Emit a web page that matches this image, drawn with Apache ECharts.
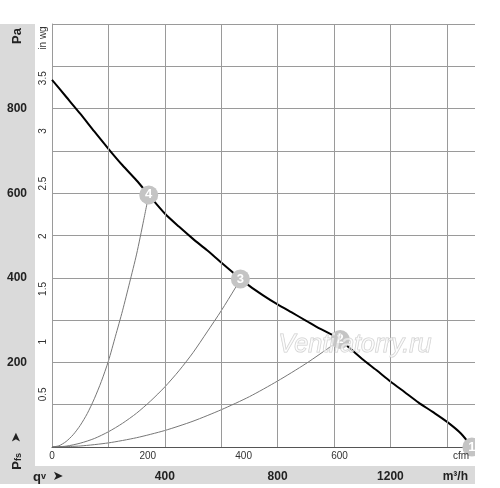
<!DOCTYPE html>
<html>
<head>
<meta charset="utf-8">
<script src="https://cdn.jsdelivr.net/npm/echarts@6/dist/echarts.min.js"></script>
<style>
html,body{margin:0;padding:0;background:#fff;}
#c{width:500px;height:488px;}
</style>
</head>
<body>
<div id="c"></div>
<script>
// Fan curve (airflow m³/h, static pressure Pa)
const mainCurve = [[0,868],[50,828],[100,788],[150,746],[200,705],[250,666],[300,630],[343,596],[400,552],[450,521],[500,492],[550,465],[600,436],[650,408],[700,381],[750,358],[800,337],[850,318],[900,299],[950,280],[1000,263],[1022,254],[1050,237],[1100,208],[1150,182],[1200,155],[1250,130],[1300,105],[1350,83],[1400,60],[1450,32],[1489,0]];
// System curves through operating points
const sys4 = [[0,0],[25,3],[50,13],[75,29],[100,51],[125,79],[150,114],[175,155],[200,203],[225,262],[250,322],[275,388],[300,456],[325,536],[343,596]];
const sys3 = [[0,0],[50,2],[100,9],[150,20],[200,36],[250,56],[300,80],[350,109],[400,142],[450,180],[500,223],[550,272],[600,322],[650,376],[668,397]];
const sys2 = [[0,0],[100,2.4],[200,9.7],[300,22],[400,39],[500,61],[600,88],[700,119],[800,156],[900,197],[1000,243],[1022,254]];
// Operating points
const opPoints = [[1489,0,'1'],[1022,254,'2'],[668,397,'3'],[343,596,'4']];
// Axis ticks
const flowGridTicks = [200,400,600,800,1000,1200,1400];
const flowLabels = [400,800,1200];
const paLabels = [200,400,600,800];
const cfmLabels = [0,200,400,600];
const inwgLabels = [0.5,1,1.5,2,2.5,3,3.5];

const FONT = 'Liberation Sans, Arial, sans-serif';
const chart = echarts.init(document.getElementById('c'));
const gridRect = {left:52, right:25, top:24, bottom:41};
const grey = '#9a9a9a';
const curveBase = {type:'line', smooth:0.25, showSymbol:false, silent:true};

chart.setOption({
  animation:false,
  backgroundColor:'#fff',
  grid:[Object.assign({}, gridRect), Object.assign({}, gridRect)],
  xAxis:[
    {type:'value', gridIndex:0, min:0, max:1500, interval:200, position:'bottom',
     axisLine:{show:true, lineStyle:{color:'#555', width:1}},
     axisTick:{show:false}, splitLine:{show:false},
     axisLabel:{margin:24, fontFamily:FONT, fontSize:12, fontWeight:'bold', color:'#222',
       formatter:v=>flowLabels.indexOf(v)>=0?String(v):''}},
    {type:'value', gridIndex:1, min:0, max:1500/1.699, interval:200, position:'bottom',
     axisLine:{show:false}, axisTick:{show:false}, splitLine:{show:false},
     axisLabel:{margin:4, fontFamily:FONT, fontSize:10, color:'#333', showMaxLabel:false,
       formatter:v=>cfmLabels.indexOf(v)>=0?String(v):''}}
  ],
  yAxis:[
    {type:'value', gridIndex:0, min:0, max:1000, interval:100, position:'left',
     axisLine:{show:true, lineStyle:{color:grey, width:1}},
     axisTick:{show:false},
     splitLine:{show:true, lineStyle:{color:grey, width:1}},
     axisLabel:{margin:35, align:'center', fontFamily:FONT, fontSize:12, fontWeight:'bold', color:'#222',
       formatter:v=>paLabels.indexOf(v)>=0?String(v):''}},
    {type:'value', gridIndex:1, min:0, max:1000/249.089, interval:0.5, position:'left',
     axisLine:{show:false}, axisTick:{show:false}, splitLine:{show:false},
     axisLabel:{margin:4, rotate:90, fontFamily:FONT, fontSize:10, color:'#333', showMaxLabel:false,
       formatter:v=>inwgLabels.indexOf(v)>=0?String(v):''}}
  ],
  series:[
    {type:'line', xAxisIndex:0, yAxisIndex:0, data:[], silent:true,
     markLine:{silent:true, symbol:['none','none'], label:{show:false},
       lineStyle:{color:grey, type:'solid', width:1},
       data:flowGridTicks.map(v=>({xAxis:v}))}},
    Object.assign({data:sys4, lineStyle:{color:'#777', width:1}}, curveBase),
    Object.assign({data:sys3, lineStyle:{color:'#777', width:1}}, curveBase),
    Object.assign({data:sys2, lineStyle:{color:'#777', width:1}}, curveBase),
    Object.assign({data:mainCurve, lineStyle:{color:'#000', width:2}, z:3}, curveBase),
    {type:'scatter', data:opPoints, symbolSize:19, itemStyle:{color:'#c4c4c4', opacity:1}, z:10, silent:true, clip:false,
     label:{show:true, position:'inside', formatter:p=>p.data[2], color:'#ffffff', textBorderWidth:0,
       fontFamily:FONT, fontSize:13, fontWeight:'bold'}}
  ],
  graphic:[
    {type:'rect', shape:{x:0, y:24, width:35, height:442}, style:{fill:'#dadada'}, z:-10},
    {type:'rect', shape:{x:0, y:466, width:475, height:18}, style:{fill:'#dadada'}, z:-10},
    {type:'rect', shape:{x:475, y:0, width:25, height:488}, style:{fill:'#fff'}, z:100},
    {type:'text', x:17, y:36, rotation:Math.PI/2, z:101,
     style:{text:'Pa', fontFamily:FONT, fontSize:13, fontWeight:'bold', fill:'#222', align:'center', verticalAlign:'middle'}},
    {type:'text', x:43, y:38, rotation:Math.PI/2, z:101,
     style:{text:'in wg', fontFamily:FONT, fontSize:10, fill:'#333', align:'center', verticalAlign:'middle'}},
    {type:'text', x:17, y:451, rotation:Math.PI/2, z:101,
     style:{text:'{p|P}{s|fs}   {a|➤}', align:'center', verticalAlign:'middle',
       rich:{p:{fontFamily:FONT, fontSize:13, fontWeight:'bold', fill:'#222'},
             s:{fontFamily:FONT, fontSize:9, fontWeight:'bold', fill:'#222', verticalAlign:'bottom', padding:[4,0,0,0]},
             a:{fontFamily:'DejaVu Sans', fontSize:13, fill:'#222'}}}},
    {type:'text', x:33, y:477, z:101,
     style:{text:'{q|q}{v|v}  {a|➤}', align:'left', verticalAlign:'middle',
       rich:{q:{fontFamily:FONT, fontSize:13, fontWeight:'bold', fill:'#222'},
             v:{fontFamily:FONT, fontSize:9, fontWeight:'bold', fill:'#222'},
             a:{fontFamily:'DejaVu Sans', fontSize:13, fill:'#222'}}}},
    {type:'text', x:468, y:477, z:101,
     style:{text:'m³/h', fontFamily:FONT, fontSize:12, fontWeight:'bold', fill:'#222', align:'right', verticalAlign:'middle'}},
    {type:'text', x:469, y:456, z:101,
     style:{text:'cfm', fontFamily:FONT, fontSize:10, fill:'#333', align:'right', verticalAlign:'middle'}},
    {type:'text', x:355, y:345, z:50,
     style:{text:'Ventilatorry.ru', fontFamily:FONT, fontSize:25, fontStyle:'italic', fill:'rgba(255,255,255,0.55)',
       stroke:'rgba(200,200,200,0.9)', lineWidth:1, align:'center', verticalAlign:'middle'}}
  ]
});
</script>
</body>
</html>
